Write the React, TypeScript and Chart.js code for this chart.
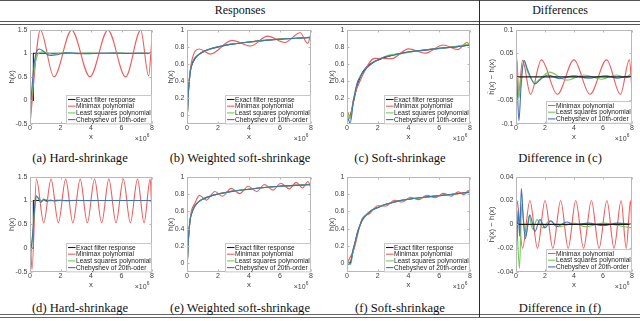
import React, { useEffect, useRef } from "react";
import { Chart, registerables } from "chart.js";
Chart.register(...registerables);

type Pt = [number, number];

// ---------- tick values ----------
const xTicks = [0, 2, 4, 6, 8];
const hardTicks = [-0.5, 0, 0.5, 1, 1.5];
const softTicks = [0, 0.2, 0.4, 0.6, 0.8, 1];
const diffTicks10 = [-0.1, -0.05, 0, 0.05, 0.1];
const diffTicks20 = [-0.04, -0.02, 0, 0.02, 0.04];

// ---------- labels ----------
const labelExact = "Exact filter response";
const labelMinimax = "Minimax polynomial";
const labelLeastSq = "Least squares polynomial";
const labelCheb10Typo = "Chebyshev of 10th-oder";
const labelCheb10 = "Chebyshev of 10th-order";
const labelCheb20Typo = "Chebyshev of 20th-oder";
const labelCheb20 = "Chebyshev of 20th-order";
const headerResponses = "Responses";
const headerDifferences = "Differences";
const captionsRow1 = ["(a) Hard-shrinkage", "(b) Weighted soft-shrinkage", "(c) Soft-shrinkage", "Difference in (c)"];
const captionsRow2 = ["(d) Hard-shrinkage", "(e) Weighted soft-shrinkage", "(f) Soft-shrinkage", "Difference in (f)"];

// ---------- (a)/(d) hard-shrinkage ----------
const hardExact: Pt[] = [[0, 0], [0.22, 0], [0.221, 1], [8, 1]];
const aMinimax: Pt[] = [[0, -0.5], [0.68, 1.49], [1.57, 0.5], [2.73, 1.49], [3.93, 0.5], [5.11, 1.49], [6.27, 0.5], [7.26, 1.49], [7.78, 0.52], [8, 1.35]];
const aLeastSq: Pt[] = [[0, -0.45], [0.1, 0.0], [0.2, 0.42], [0.3, 0.72], [0.45, 0.93], [0.65, 1.02], [0.9, 1.03], [1.2, 1.0], [1.6, 0.98], [2.2, 1.01], [3, 0.99], [3.8, 1.005], [4.8, 0.995], [5.8, 1.005], [6.8, 0.995], [7.5, 1.005], [8, 0.99]];
const aCheb: Pt[] = [[0, -0.32], [0.1, 0.15], [0.25, 0.72], [0.4, 1.0], [0.6, 1.09], [0.85, 1.05], [1.1, 0.98], [1.4, 0.955], [1.8, 0.97], [2.4, 1.01], [3, 1.0], [3.7, 0.99], [4.5, 1.0], [5.5, 1.005], [6.5, 0.995], [7.4, 1.0], [8, 1.0]];
const dMinimax: Pt[] = [[0, 0.45], [0.13, -0.45], [0.42, 1.45], [0.9, 0.53], [1.38, 1.45], [1.86, 0.53], [2.34, 1.45], [2.81, 0.53], [3.29, 1.45], [3.76, 0.53], [4.23, 1.45], [4.7, 0.53], [5.17, 1.45], [5.64, 0.53], [6.12, 1.45], [6.58, 0.53], [7.05, 1.45], [7.48, 0.53], [7.88, 1.45], [8, 0.65]];
const dLeastSq: Pt[] = [[0, 0.2], [0.08, 0.0], [0.2, 0.35], [0.32, 0.85], [0.45, 1.07], [0.6, 1.03], [0.8, 0.99], [1.05, 1.02], [1.35, 0.99], [1.7, 1.01], [2.2, 0.995], [3, 1.005], [4, 0.998], [5, 1.002], [6, 0.999], [7, 1.001], [8, 1.0]];
const dCheb: Pt[] = [[0, -0.2], [0.08, 0.0], [0.2, 0.4], [0.3, 0.85], [0.4, 1.1], [0.55, 1.05], [0.7, 0.96], [0.9, 1.03], [1.1, 0.98], [1.35, 1.01], [1.6, 0.99], [2, 1.005], [2.5, 0.997], [3.2, 1.002], [4, 1.0], [6, 1.0], [8, 1.0]];

// ---------- (b)/(e) weighted soft-shrinkage ----------
const wsExact: Pt[] = [[0, -0.1], [0.05, 0.12], [0.1, 0.3], [0.2, 0.5], [0.3, 0.58], [0.5, 0.66], [0.75, 0.71], [1, 0.74], [1.5, 0.775], [2, 0.8], [2.5, 0.818], [3, 0.833], [4, 0.856], [5, 0.875], [6, 0.89], [7, 0.9], [8, 0.91]];
const bMinimax: Pt[] = [[0, -0.1], [0.1, 0.32], [0.3, 0.63], [0.8, 0.775], [1.5, 0.715], [2.9, 0.875], [4.1, 0.81], [5.2, 0.925], [6.3, 0.85], [7.3, 0.965], [7.78, 0.84], [8, 0.955]];
const bLeastSq: Pt[] = [[0, -0.08], [0.05, 0.1], [0.1, 0.29], [0.2, 0.5], [0.3, 0.59], [0.5, 0.67], [0.75, 0.71], [1, 0.735], [1.5, 0.772], [2, 0.802], [2.5, 0.822], [3, 0.835], [4, 0.853], [5, 0.876], [6, 0.892], [7, 0.898], [8, 0.915]];
const bCheb: Pt[] = [[0, -0.1], [0.05, 0.11], [0.1, 0.29], [0.2, 0.49], [0.3, 0.585], [0.5, 0.665], [0.75, 0.707], [1, 0.738], [1.5, 0.777], [2, 0.798], [2.5, 0.82], [3, 0.834], [4, 0.857], [5, 0.874], [6, 0.889], [7, 0.901], [8, 0.909]];
const eMinimax: Pt[] = [[0, -0.06], [0.1, 0.3], [0.25, 0.57], [0.5, 0.69], [0.8, 0.785], [1.25, 0.73], [1.8, 0.83], [2.3, 0.775], [2.85, 0.865], [3.4, 0.805], [3.95, 0.89], [4.5, 0.83], [5.0, 0.91], [5.55, 0.845], [6.05, 0.925], [6.6, 0.86], [7.05, 0.935], [7.45, 0.87], [7.8, 0.945], [8, 0.87]];
const eLeastSq: Pt[] = [[0, -0.07], [0.05, 0.11], [0.1, 0.3], [0.2, 0.5], [0.3, 0.585], [0.5, 0.662], [0.75, 0.708], [1, 0.742], [1.5, 0.776], [2, 0.799], [2.5, 0.819], [3, 0.834], [4, 0.855], [5, 0.876], [6, 0.889], [7, 0.901], [8, 0.909]];
const eCheb: Pt[] = [[0, -0.09], [0.05, 0.12], [0.1, 0.31], [0.2, 0.5], [0.3, 0.575], [0.5, 0.66], [0.75, 0.712], [1, 0.739], [1.5, 0.776], [2, 0.8], [2.5, 0.818], [3, 0.834], [4, 0.856], [5, 0.875], [6, 0.89], [7, 0.9], [8, 0.91]];

// ---------- (c)/(f) soft-shrinkage ----------
const sExact: Pt[] = [[0, 0], [0.2, 0], [0.3, 0.06], [0.4, 0.14], [0.5, 0.22], [0.6, 0.3], [0.7, 0.37], [0.85, 0.44], [1.0, 0.5], [1.2, 0.55], [1.4, 0.585], [1.6, 0.61], [1.8, 0.63], [2, 0.645], [2.5, 0.68], [3, 0.705], [3.5, 0.725], [4, 0.74], [5, 0.762], [6, 0.782], [7, 0.8], [8, 0.822]];
const cMinimax: Pt[] = [[0, 0], [0.07, 0.035], [0.18, -0.035], [0.42, 0.19], [1.0, 0.463], [1.8, 0.666], [2.9, 0.663], [4.0, 0.776], [5.1, 0.727], [6.25, 0.822], [7.2, 0.767], [7.82, 0.854], [8, 0.792]];
const cLeastSq: Pt[] = [[0, 0.07], [0.1, 0.0], [0.2, -0.04], [0.3, 0.03], [0.4, 0.15], [0.5, 0.25], [0.6, 0.333], [0.7, 0.395], [0.85, 0.455], [1.0, 0.49], [1.2, 0.538], [1.4, 0.573], [1.6, 0.602], [1.8, 0.627], [2, 0.648], [2.5, 0.69], [3, 0.712], [3.5, 0.718], [4, 0.735], [5, 0.766], [6, 0.777], [7, 0.804], [8, 0.832]];
const cCheb: Pt[] = [[0, 0.005], [0.1, -0.05], [0.2, -0.09], [0.3, -0.01], [0.4, 0.15], [0.5, 0.25], [0.6, 0.335], [0.7, 0.395], [0.85, 0.448], [1.0, 0.49], [1.2, 0.537], [1.4, 0.572], [1.6, 0.602], [1.8, 0.63], [2, 0.648], [2.5, 0.684], [3, 0.701], [3.5, 0.722], [4, 0.742], [5, 0.759], [6, 0.784], [7, 0.797], [8, 0.822]];
const fMinimax: Pt[] = [[0, -0.02], [0.07, 0.02], [0.45, 0.16], [0.96, 0.505], [1.48, 0.575], [2.0, 0.665], [2.54, 0.662], [3.08, 0.728], [3.6, 0.708], [4.12, 0.763], [4.66, 0.735], [5.2, 0.786], [5.73, 0.757], [6.27, 0.807], [6.76, 0.776], [7.25, 0.825], [7.6, 0.793], [7.9, 0.84], [8, 0.81]];
const fLeastSq: Pt[] = [[0, 0.012], [0.1, -0.01], [0.24, -0.013], [0.4, 0.157], [0.55, 0.26], [0.68, 0.346], [0.9, 0.467], [1.15, 0.534], [1.45, 0.596], [1.85, 0.631], [2.3, 0.669], [3, 0.703], [4, 0.741], [4.8, 0.756], [6, 0.783], [7, 0.799], [8, 0.819]];
const fCheb: Pt[] = [[0, -0.01], [0.05, -0.015], [0.15, 0.012], [0.25, 0.02], [0.37, 0.145], [0.5, 0.225], [0.64, 0.318], [0.8, 0.415], [0.95, 0.488], [1.15, 0.538], [1.3, 0.562], [1.65, 0.619], [2, 0.642], [2.4, 0.676], [2.8, 0.693], [3.5, 0.727], [4, 0.74], [5, 0.763], [6, 0.781], [7, 0.801], [8, 0.822]];

// ---------- differences ----------
const zeroLine: Pt[] = [[0, 0], [8, 0]];
const dcMinimax: Pt[] = [[0, 0], [0.07, 0.035], [0.18, -0.035], [0.45, 0.035], [1.0, -0.037], [1.75, 0.036], [2.85, -0.037], [4.0, 0.036], [5.1, -0.037], [6.25, 0.036], [7.2, -0.037], [7.82, 0.036], [8, -0.03]];
const dcLeastSq: Pt[] = [[0, 0.07], [0.1, 0.0], [0.2, -0.045], [0.35, 0.0], [0.55, 0.033], [0.8, 0.01], [1.3, -0.012], [1.8, 0.0], [2.3, 0.01], [3.5, -0.007], [4.7, 0.004], [5.9, -0.005], [6.9, 0.004], [7.6, -0.002], [8, 0.01]];
const dcCheb: Pt[] = [[0, 0.005], [0.08, -0.02], [0.2, -0.093], [0.35, -0.02], [0.55, 0.035], [0.8, 0.015], [1.3, -0.015], [1.7, -0.005], [2.2, 0.004], [3.0, -0.004], [4, 0.002], [5, -0.003], [6.2, 0.002], [7, -0.003], [7.7, 0.001], [8, 0]];
const dfMinimax: Pt[] = [[0, -0.02], [0.07, 0.02], [0.45, -0.02], [0.96, 0.02], [1.48, -0.02], [2.0, 0.02], [2.54, -0.02], [3.08, 0.02], [3.6, -0.02], [4.12, 0.02], [4.66, -0.02], [5.2, 0.02], [5.73, -0.02], [6.27, 0.02], [6.76, -0.02], [7.25, 0.02], [7.6, -0.02], [7.9, 0.02], [8, -0.012]];
const dfLeastSq: Pt[] = [[0, 0.012], [0.1, -0.01], [0.24, -0.037], [0.4, 0.017], [0.55, 0.0], [0.68, -0.01], [0.9, 0.007], [1.15, -0.004], [1.45, 0.004], [1.85, -0.003], [2.3, 0.003], [3, -0.002], [4, 0.001], [4.8, -0.002], [6, 0.001], [7, -0.001], [8, -0.003]];
const dfCheb: Pt[] = [[0, -0.01], [0.05, -0.015], [0.15, 0.012], [0.25, -0.01], [0.37, 0.03], [0.5, 0.005], [0.64, -0.012], [0.8, -0.002], [0.95, 0.008], [1.15, 0.0], [1.3, -0.006], [1.65, 0.004], [2.0, -0.003], [2.4, 0.003], [2.8, -0.002], [3.5, 0.002], [4, 0.0], [5, 0.001], [6, -0.001], [7, 0.001], [8, 0]];

// ---------- styling ----------
const SANS = '"Liberation Sans", Arial, Helvetica, sans-serif';
const SERIF = '"Liberation Serif", "Times New Roman", serif';
const C_BLACK = "#1c1c1c";
const C_RED = "#ef5b5b";
const C_GREEN = "#72cc55";
const C_BLUE = "#3f73b5";
const AXIS_COLOR = "#b8b8b8";
const TEXT_COLOR = "#404040";
const PAD_TOP = 6;
const PAD_RIGHT = 8;
const PAD_BOTTOM = 4;
const X_AXIS_H = 18;

interface SeriesSpec { label: string; points: Pt[]; color: string; order: number; straight?: boolean; inLegend?: boolean; }
interface PanelSpec { key: string; left: number; right: number; top: number; bottom: number; yAxisW: number; yTitleX: number; yMin: number; yMax: number; yTicks: number[]; yTitle: string; series: SeriesSpec[]; }

function responseSeries(exact: Pt[], mm: Pt[], ls: Pt[], ch: Pt[], chLabel: string, stepExact: boolean): SeriesSpec[] {
  return [
    { label: labelExact, points: exact, color: C_BLACK, order: 3, straight: stepExact },
    { label: labelMinimax, points: mm, color: C_RED, order: 2 },
    { label: labelLeastSq, points: ls, color: C_GREEN, order: 1 },
    { label: chLabel, points: ch, color: C_BLUE, order: 0 },
  ];
}
function diffSeries(mm: Pt[], ls: Pt[], ch: Pt[], chLabel: string): SeriesSpec[] {
  return [
    { label: "zero", points: zeroLine, color: C_BLACK, order: 0, straight: true, inLegend: false },
    { label: labelMinimax, points: mm, color: C_RED, order: 3 },
    { label: labelLeastSq, points: ls, color: C_GREEN, order: 2 },
    { label: chLabel, points: ch, color: C_BLUE, order: 1 },
  ];
}

const R1T = 29, R1B = 124, R2T = 176, R2B = 272;
const panels: PanelSpec[] = [
  { key: "a", left: 30, right: 152, top: R1T, bottom: R1B, yAxisW: 30, yTitleX: 11.7, yMin: -0.5, yMax: 1.5, yTicks: hardTicks, yTitle: "h(x)", series: responseSeries(hardExact, aMinimax, aLeastSq, aCheb, labelCheb10Typo, true) },
  { key: "b", left: 187, right: 311, top: R1T, bottom: R1B, yAxisW: 30, yTitleX: 170.5, yMin: -0.1, yMax: 1, yTicks: softTicks, yTitle: "h(x)", series: responseSeries(wsExact, bMinimax, bLeastSq, bCheb, labelCheb10, false) },
  { key: "c", left: 347, right: 470, top: R1T, bottom: R1B, yAxisW: 30, yTitleX: 332, yMin: -0.1, yMax: 1, yTicks: softTicks, yTitle: "h(x)", series: responseSeries(sExact, cMinimax, cLeastSq, cCheb, labelCheb10, false) },
  { key: "dc", left: 516, right: 632, top: R1T, bottom: R1B, yAxisW: 36, yTitleX: 491.7, yMin: -0.1, yMax: 0.1, yTicks: diffTicks10, yTitle: "\u0125(x) \u2212 h(x)", series: diffSeries(dcMinimax, dcLeastSq, dcCheb, labelCheb10) },
  { key: "d", left: 30, right: 152, top: R2T, bottom: R2B, yAxisW: 30, yTitleX: 11.7, yMin: -0.5, yMax: 1.5, yTicks: hardTicks, yTitle: "h(x)", series: responseSeries(hardExact, dMinimax, dLeastSq, dCheb, labelCheb20Typo, true) },
  { key: "e", left: 187, right: 311, top: R2T, bottom: R2B, yAxisW: 30, yTitleX: 170.5, yMin: -0.1, yMax: 1, yTicks: softTicks, yTitle: "h(x)", series: responseSeries(wsExact, eMinimax, eLeastSq, eCheb, labelCheb20, false) },
  { key: "f", left: 347, right: 470, top: R2T, bottom: R2B, yAxisW: 30, yTitleX: 332, yMin: -0.1, yMax: 1, yTicks: softTicks, yTitle: "h(x)", series: responseSeries(sExact, fMinimax, fLeastSq, fCheb, labelCheb20, false) },
  { key: "df", left: 516, right: 632, top: R2T, bottom: R2B, yAxisW: 36, yTitleX: 491.7, yMin: -0.04, yMax: 0.04, yTicks: diffTicks20, yTitle: "\u0125(x) \u2212 h(x)", series: diffSeries(dfMinimax, dfLeastSq, dfCheb, labelCheb20) },
];

const framePlugin = {
  id: "matlabFrame",
  afterDatasetsDraw(chart: any) {
    const { ctx, chartArea: ca, scales } = chart;
    const xs = scales.x, ys = scales.y;
    const l = Math.round(ca.left) + 0.5, r = Math.round(ca.right) - 0.5;
    const t = Math.round(ca.top) + 0.5, b = Math.round(ca.bottom) - 0.5;
    ctx.save();
    ctx.strokeStyle = AXIS_COLOR;
    ctx.lineWidth = 1;
    ctx.beginPath();
    const TL = 2;
    xs.ticks.forEach((tk: any) => {
      const px = Math.round(xs.getPixelForValue(tk.value)) + 0.5;
      ctx.moveTo(px, b); ctx.lineTo(px, b - TL);
      ctx.moveTo(px, t); ctx.lineTo(px, t + TL);
    });
    ys.ticks.forEach((tk: any) => {
      const py = Math.round(ys.getPixelForValue(tk.value)) + 0.5;
      ctx.moveTo(l, py); ctx.lineTo(l + TL, py);
      ctx.moveTo(r, py); ctx.lineTo(r - TL, py);
    });
    ctx.stroke();
    ctx.strokeRect(l, t, r - l, b - t);

    // legend inside lower right corner
    const items = chart.data.datasets.filter((d: any) => d.inLegend !== false);
    ctx.font = `6.6px ${SANS}`;
    const rowH = 6.7;
    const textW = Math.max(...items.map((d: any) => ctx.measureText(d.label).width));
    const boxW = 9.5 + textW + 1.5;
    const boxH = 4 + (items.length - 1) * rowH + 4.3;
    const bx = Math.round(ca.right - boxW) + 0.5;
    const by = Math.round(ca.bottom - 1 - boxH) + 0.5;
    ctx.fillStyle = "#ffffff";
    ctx.fillRect(bx, by, Math.round(ca.right) - 0.5 - bx, boxH);
    ctx.strokeStyle = "#c8c8c8";
    ctx.strokeRect(bx, by, Math.round(ca.right) - 0.5 - bx, boxH);
    items.forEach((d: any, i: number) => {
      const yy = by + 4 + i * rowH;
      ctx.strokeStyle = d.borderColor;
      ctx.lineWidth = 1.1;
      ctx.beginPath();
      ctx.moveTo(bx + 1.5, yy); ctx.lineTo(bx + 9, yy);
      ctx.stroke();
      ctx.fillStyle = "#222";
      ctx.textBaseline = "middle";
      ctx.textAlign = "left";
      ctx.fillText(d.label, bx + 9.5, yy + 0.3);
    });

    // x 10^6 exponent label
    ctx.fillStyle = TEXT_COLOR;
    ctx.textBaseline = "middle";
    ctx.textAlign = "right";
    ctx.font = `4.8px ${SANS}`;
    const supRight = ca.right - 2.5;
    const supW = ctx.measureText("6").width;
    ctx.fillText("6", supRight, ca.bottom + 11.6);
    ctx.font = `7px ${SANS}`;
    ctx.fillText("\u00d710", supRight - supW - 0.2, ca.bottom + 14.6);
    ctx.restore();
  },
};

function buildConfig(p: PanelSpec) {
  const cl = p.left - p.yAxisW;
  const titleFont = { family: SANS, size: 7.8 };
  const titlePad = p.yTitleX - cl - (7.8 * 1.2) / 2;
  const tickFont = { family: SANS, size: 7 };
  return {
    type: "line",
    data: {
      datasets: p.series.map((s) => ({
        label: s.label,
        data: s.points.map(([x, y]) => ({ x, y })),
        borderColor: s.color,
        backgroundColor: s.color,
        borderWidth: 1.1,
        pointRadius: 0,
        fill: false,
        order: s.order,
        inLegend: s.inLegend,
        tension: s.straight ? 0 : 0.4,
        cubicInterpolationMode: s.straight ? "default" : "monotone",
      })),
    },
    options: {
      responsive: false,
      maintainAspectRatio: false,
      animation: false,
      events: [],
      devicePixelRatio: 1,
      layout: { padding: { left: 0, top: PAD_TOP, right: PAD_RIGHT, bottom: PAD_BOTTOM } },
      plugins: { legend: { display: false }, tooltip: { enabled: false } },
      scales: {
        x: {
          type: "linear",
          min: 0,
          max: 8,
          afterBuildTicks: (sc: any) => { sc.ticks = xTicks.map((v) => ({ value: v })); },
          afterFit: (sc: any) => { sc.height = X_AXIS_H; },
          grid: { display: false, drawTicks: false },
          border: { display: false },
          ticks: { font: tickFont, color: TEXT_COLOR, padding: 0.3, maxRotation: 0, autoSkip: false, callback: (v: any) => String(v) },
          title: { display: true, text: "x", font: titleFont, color: TEXT_COLOR, padding: { top: 0, bottom: 0.3 } },
        },
        y: {
          type: "linear",
          min: p.yMin,
          max: p.yMax,
          afterBuildTicks: (sc: any) => { sc.ticks = p.yTicks.map((v) => ({ value: v })); },
          afterFit: (sc: any) => { sc.width = p.yAxisW; },
          grid: { display: false, drawTicks: false },
          border: { display: false },
          ticks: { font: tickFont, color: TEXT_COLOR, padding: 2.5, autoSkip: false, callback: (v: any) => String(v) },
          title: { display: true, text: p.yTitle, font: titleFont, color: TEXT_COLOR, padding: { top: titlePad, bottom: 0 } },
        },
      },
    },
    plugins: [framePlugin],
  };
}

function Panel({ spec }: { spec: PanelSpec }) {
  const ref = useRef<HTMLCanvasElement>(null);
  useEffect(() => {
    const chart = new Chart(ref.current as HTMLCanvasElement, buildConfig(spec) as any);
    return () => chart.destroy();
  }, [spec]);
  const cl = spec.left - spec.yAxisW;
  const ct = spec.top - PAD_TOP;
  const w = spec.right + PAD_RIGHT - cl;
  const h = spec.bottom - spec.top + PAD_TOP + X_AXIS_H + PAD_BOTTOM;
  return <canvas ref={ref} width={w} height={h} style={{ position: "absolute", left: cl, top: ct, width: w, height: h }} />;
}

const colCenters = [80, 240, 400, 560];

function HLine({ top, color = "#555", h = 1 }: { top: number; color?: string; h?: number }) {
  return <div style={{ position: "absolute", left: 0, width: 640, top, height: h, background: color }} />;
}

export default function App() {
  const textStyle = (cx: number, top: number, size: number): React.CSSProperties => ({
    position: "absolute", left: cx - 110, width: 220, top, textAlign: "center",
    fontFamily: SERIF, fontSize: size, lineHeight: "14px", color: "#111", whiteSpace: "nowrap",
  });
  return (
    <div style={{ position: "absolute", left: 0, top: 0, width: 640, height: 321, background: "#fff", overflow: "hidden" }}>
      <HLine top={0} color="#555" h={1.3} />
      <HLine top={21} color="#555" />
      <HLine top={23.6} color="#555" />
      <HLine top={314} color="#666" />
      <HLine top={316.5} color="#666" />
      <div style={textStyle(240, 3, 12)}>{headerResponses}</div>
      <div style={textStyle(560, 3, 12)}>{headerDifferences}</div>
      {panels.map((p) => <Panel key={p.key} spec={p} />)}
      {captionsRow1.map((c, i) => <div key={"c1" + i} style={textStyle(colCenters[i], 151, 12.6)}>{c}</div>)}
      {captionsRow2.map((c, i) => <div key={"c2" + i} style={textStyle(colCenters[i], 300.5, 12.6)}>{c}</div>)}
      <div style={{ position: "absolute", left: 479, top: 0, width: 1.2, height: 317, background: "#2a2a2a" }} />
    </div>
  );
}
